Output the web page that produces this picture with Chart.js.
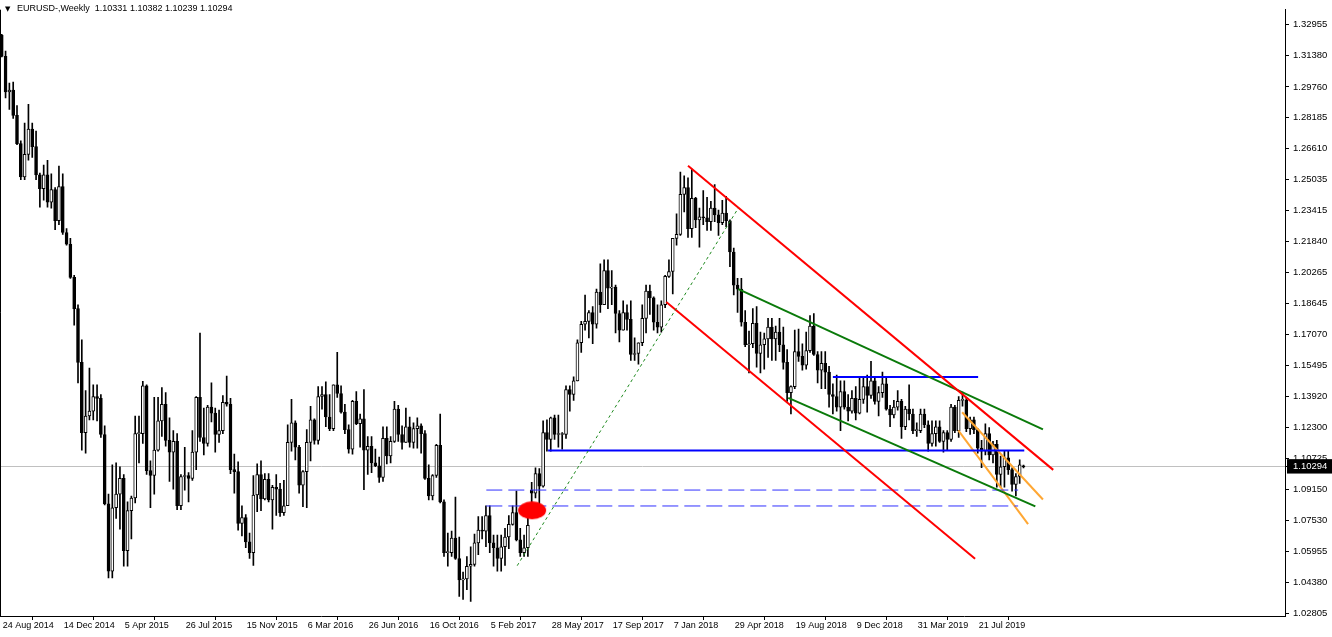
<!DOCTYPE html>
<html>
<head>
<meta charset="utf-8">
<title>EURUSD Weekly</title>
<script src="https://cdn.jsdelivr.net/npm/chart.js@4.4.1/dist/chart.umd.min.js"></script>
<style>
  html, body { margin: 0; padding: 0; background: #fff; }
  #chart { display: block; }
</style>
</head>
<body>
<canvas id="chart" width="1332" height="637"></canvas>
<script>
const symbolTitle = "EURUSD-,Weekly";
const lastBar = [1.10331, 1.10382, 1.10239, 1.10294];
const lastPrice = 1.10294;

// weekly bars, first one = week of 24 Aug 2014
const opens = [
  1.3240,1.3132,1.2950,1.2960,1.2830,1.2685,1.2515,1.2630,1.2760,1.2670,
  1.2525,1.2455,1.2525,1.2385,1.2450,1.2290,1.2465,1.2230,1.2170,1.2000,
  1.1840,1.1565,1.1205,1.1290,1.1315,1.1390,1.1380,1.1195,1.0840,1.0495,
  1.0820,1.0890,1.0970,1.0600,1.0805,1.0870,1.1200,1.1200,1.1445,1.1010,
  1.0985,1.1115,1.1265,1.1350,1.1165,1.1105,1.1160,1.0830,1.0980,1.0985,
  1.0970,1.1105,1.1385,1.1180,1.1150,1.1335,1.1305,1.1195,1.1215,1.1360,
  1.1350,1.1015,1.1005,1.0740,1.0770,1.0645,1.0590,1.0885,1.0990,1.0865,
  1.0965,1.0860,1.0925,1.0915,1.0795,1.0830,1.1155,1.1255,1.1130,1.0935,
  1.1005,1.1155,1.1270,1.1165,1.1390,1.1400,1.1285,1.1225,1.1450,1.1405,
  1.1310,1.1220,1.1120,1.1365,1.1250,1.1275,1.1115,1.1135,1.1050,1.1035,
  1.0975,1.1175,1.1085,1.1160,1.1325,1.1195,1.1155,1.1235,1.1155,1.1225,
  1.1240,1.1200,1.0970,1.0880,1.0985,1.1140,1.0850,1.0590,1.0590,1.0665,
  1.0560,1.0450,1.0455,1.0520,1.0530,1.0640,1.0705,1.0700,1.0780,1.0640,
  1.0615,1.0560,1.0620,1.0670,1.0735,1.0795,1.0655,1.0590,1.0615,1.0910,
  1.0895,1.0995,1.0930,1.1205,1.1170,1.1280,1.1195,1.1195,1.1195,1.1425,
  1.1400,1.1470,1.1665,1.1760,1.1775,1.1820,1.1760,1.1925,1.1860,1.2035,
  1.1945,1.1950,1.1815,1.1730,1.1820,1.1785,1.1605,1.1610,1.1665,1.1790,
  1.1930,1.1895,1.1770,1.1745,1.1860,1.2005,1.2030,1.2200,1.2220,1.2425,
  1.2460,1.2250,1.2405,1.2295,1.2310,1.2305,1.2285,1.2355,1.2320,1.2280,
  1.2330,1.2290,1.2130,1.1960,1.1940,1.1770,1.1655,1.1660,1.1765,1.1610,
  1.1655,1.1685,1.1745,1.1685,1.1720,1.1655,1.1565,1.1410,1.1440,1.1620,
  1.1595,1.1550,1.1625,1.1750,1.1605,1.1525,1.1560,1.1515,1.1400,1.1390,
  1.1335,1.1415,1.1335,1.1315,1.1380,1.1305,1.1375,1.1440,1.1395,1.1470,
  1.1365,1.1410,1.1455,1.1325,1.1295,1.1335,1.1365,1.1235,1.1325,1.1300,
  1.1215,1.1215,1.1300,1.1245,1.1150,1.1200,1.1235,1.1160,1.1205,1.1170,
  1.1335,1.1215,1.1370,1.1370,1.1225,1.1270,1.1220,1.1125,1.1110,1.1200,
  1.1090,1.1145,1.0990,1.1030,1.1075,1.1015,1.0940,1.0980,1.10331
];
const highs = [
  1.3245,1.3160,1.2995,1.3000,1.2880,1.2700,1.2790,1.2887,1.2790,1.2750,
  1.2535,1.2575,1.2600,1.2530,1.2460,1.2570,1.2530,1.2250,1.2200,1.2010,
  1.1860,1.1680,1.1420,1.1535,1.1450,1.1450,1.1400,1.1240,1.0890,1.1040,
  1.1050,1.1030,1.0990,1.0850,1.0880,1.1290,1.1290,1.1467,1.1450,1.1060,
  1.1385,1.1385,1.1435,1.1410,1.1280,1.1215,1.1200,1.0990,1.1130,1.1000,
  1.1215,1.1390,1.1715,1.1330,1.1345,1.1460,1.1330,1.1320,1.1395,1.1495,
  1.1380,1.1095,1.1055,1.0830,1.0785,1.0690,1.0985,1.1045,1.1060,1.0995,
  1.0995,1.0935,1.0990,1.0945,1.0960,1.1245,1.1375,1.1265,1.1140,1.1010,
  1.1220,1.1340,1.1275,1.1440,1.1440,1.1465,1.1400,1.1450,1.1616,1.1445,
  1.1350,1.1245,1.1370,1.1415,1.1300,1.1425,1.1185,1.1185,1.1120,1.1080,
  1.1235,1.1235,1.1185,1.1365,1.1345,1.1240,1.1330,1.1285,1.1255,1.1280,
  1.1250,1.1215,1.1040,1.0990,1.1145,1.1300,1.0860,1.0690,1.0700,1.0875,
  1.0670,1.0490,1.0570,1.0620,1.0685,1.0775,1.0775,1.0830,1.0830,1.0680,
  1.0680,1.0680,1.0715,1.0780,1.0830,1.0905,1.0715,1.0680,1.0780,1.0950,
  1.1025,1.1020,1.1265,1.1270,1.1285,1.1295,1.1295,1.1205,1.1445,1.1445,
  1.1490,1.1680,1.1775,1.1910,1.1830,1.1850,1.1940,1.2070,1.2090,1.2090,
  1.2035,1.1960,1.1830,1.1880,1.1860,1.1880,1.1690,1.1665,1.1860,1.1960,
  1.1960,1.1900,1.1860,1.1880,1.2010,1.2090,1.2200,1.2325,1.2540,1.2520,
  1.2510,1.2555,1.2410,1.2355,1.2445,1.2410,1.2390,1.2475,1.2345,1.2395,
  1.2415,1.2295,1.2150,1.1995,1.1995,1.1830,1.1725,1.1840,1.1850,1.1720,
  1.1715,1.1790,1.1790,1.1750,1.1790,1.1745,1.1630,1.1445,1.1730,1.1735,
  1.1660,1.1720,1.1805,1.1815,1.1620,1.1620,1.1620,1.1545,1.1455,1.1500,
  1.1470,1.1470,1.1400,1.1420,1.1440,1.1485,1.1485,1.1500,1.1570,1.1490,
  1.1440,1.1515,1.1490,1.1345,1.1370,1.1420,1.1375,1.1340,1.1450,1.1325,
  1.1255,1.1325,1.1325,1.1265,1.1265,1.1265,1.1265,1.1215,1.1215,1.1350,
  1.1345,1.1390,1.1412,1.1385,1.1285,1.1285,1.1225,1.1165,1.1250,1.1230,
  1.1160,1.1165,1.1085,1.1110,1.1110,1.1025,1.0995,1.1065,1.10382
];
const lows = [
  1.3130,1.2920,1.2860,1.2815,1.2680,1.2500,1.2500,1.2600,1.2615,1.2500,
  1.2360,1.2395,1.2360,1.2355,1.2245,1.2270,1.2220,1.2165,1.1995,1.1755,
  1.1460,1.1115,1.1100,1.1270,1.1270,1.1265,1.1180,1.0835,1.0460,1.0460,
  1.0765,1.0710,1.0520,1.0520,1.0660,1.0845,1.1050,1.1150,1.0990,1.0820,
  1.0890,1.1110,1.1185,1.1135,1.0955,1.0915,1.0810,1.0810,1.0910,1.0850,
  1.0960,1.1015,1.1160,1.1090,1.1135,1.1260,1.1105,1.1155,1.1200,1.1340,
  1.0995,1.0895,1.0705,1.0675,1.0615,1.0560,1.0525,1.0800,1.0805,1.0860,
  1.0850,1.0710,1.0780,1.0775,1.0780,1.0830,1.1110,1.1065,1.0895,1.0825,
  1.0820,1.1060,1.1145,1.1145,1.1325,1.1235,1.1215,1.1215,1.1385,1.1305,
  1.1200,1.1100,1.1095,1.1245,1.1130,1.0912,1.0990,1.1000,1.1030,1.0950,
  1.0955,1.1045,1.1050,1.1155,1.1160,1.1120,1.1155,1.1130,1.1125,1.1125,
  1.1100,1.0965,1.0860,1.0860,1.0975,1.0845,1.0570,1.0520,1.0570,1.0555,
  1.0365,1.0350,1.0400,1.0340,1.0520,1.0580,1.0660,1.0620,1.0590,1.0520,
  1.0495,1.0495,1.0525,1.0610,1.0730,1.0650,1.0570,1.0570,1.0570,1.0820,
  1.0870,1.0840,1.0925,1.1110,1.1110,1.1170,1.1130,1.1120,1.1175,1.1315,
  1.1370,1.1470,1.1615,1.1730,1.1690,1.1660,1.1740,1.1820,1.1860,1.1840,
  1.1860,1.1715,1.1670,1.1730,1.1730,1.1575,1.1575,1.1555,1.1650,1.1715,
  1.1810,1.1730,1.1715,1.1720,1.1845,1.2000,1.1915,1.2165,1.2215,1.2335,
  1.2205,1.2205,1.2255,1.2155,1.2270,1.2240,1.2240,1.2285,1.2215,1.2270,
  1.2260,1.2055,1.1910,1.1820,1.1750,1.1645,1.1510,1.1640,1.1540,1.1510,
  1.1530,1.1590,1.1575,1.1575,1.1620,1.1530,1.1365,1.1300,1.1430,1.1570,
  1.1525,1.1530,1.1615,1.1600,1.1460,1.1430,1.1430,1.1335,1.1300,1.1315,
  1.1215,1.1325,1.1265,1.1305,1.1270,1.1300,1.1355,1.1310,1.1380,1.1350,
  1.1290,1.1385,1.1320,1.1235,1.1280,1.1320,1.1175,1.1220,1.1270,1.1200,
  1.1185,1.1205,1.1230,1.1110,1.1135,1.1135,1.1155,1.1105,1.1115,1.1160,
  1.1205,1.1180,1.1340,1.1210,1.1195,1.1200,1.1100,1.1025,1.1090,1.1065,
  1.1050,1.0925,1.0925,1.0925,1.0990,1.0905,1.0880,1.0945,1.10239
];
const closes = [
  1.3132,1.2950,1.2960,1.2830,1.2685,1.2515,1.2630,1.2760,1.2670,1.2525,
  1.2455,1.2525,1.2385,1.2450,1.2290,1.2465,1.2230,1.2170,1.2000,1.1840,
  1.1565,1.1205,1.1290,1.1315,1.1390,1.1380,1.1195,1.0840,1.0495,1.0820,
  1.0890,1.0970,1.0600,1.0805,1.0870,1.1200,1.1200,1.1445,1.1010,1.0985,
  1.1115,1.1265,1.1350,1.1165,1.1105,1.1160,1.0830,1.0980,1.0985,1.0970,
  1.1105,1.1385,1.1180,1.1150,1.1335,1.1305,1.1195,1.1215,1.1360,1.1350,
  1.1015,1.1005,1.0740,1.0770,1.0645,1.0590,1.0885,1.0990,1.0865,1.0965,
  1.0860,1.0925,1.0915,1.0795,1.0830,1.1155,1.1255,1.1130,1.0935,1.1005,
  1.1155,1.1270,1.1165,1.1390,1.1400,1.1285,1.1225,1.1450,1.1405,1.1310,
  1.1220,1.1120,1.1365,1.1250,1.1275,1.1115,1.1135,1.1050,1.1035,1.0975,
  1.1175,1.1085,1.1160,1.1325,1.1195,1.1155,1.1235,1.1155,1.1225,1.1240,
  1.1200,1.0970,1.0880,1.0985,1.1140,1.0850,1.0590,1.0590,1.0665,1.0560,
  1.0450,1.0455,1.0520,1.0530,1.0640,1.0705,1.0700,1.0780,1.0640,1.0615,
  1.0560,1.0620,1.0670,1.0735,1.0795,1.0655,1.0590,1.0615,1.0730,1.0895,
  1.0995,1.0930,1.1205,1.1170,1.1280,1.1195,1.1195,1.1195,1.1425,1.1400,
  1.1470,1.1665,1.1760,1.1775,1.1820,1.1760,1.1925,1.1860,1.2035,1.1945,
  1.1950,1.1815,1.1730,1.1820,1.1785,1.1605,1.1610,1.1665,1.1790,1.1930,
  1.1895,1.1770,1.1745,1.1860,1.2005,1.2030,1.2200,1.2220,1.2425,1.2460,
  1.2250,1.2405,1.2295,1.2310,1.2305,1.2285,1.2355,1.2320,1.2280,1.2330,
  1.2290,1.2130,1.1960,1.1940,1.1770,1.1655,1.1660,1.1765,1.1610,1.1655,
  1.1685,1.1745,1.1685,1.1720,1.1655,1.1565,1.1410,1.1440,1.1620,1.1595,
  1.1550,1.1625,1.1750,1.1605,1.1525,1.1560,1.1515,1.1400,1.1390,1.1335,
  1.1415,1.1335,1.1315,1.1380,1.1305,1.1375,1.1440,1.1395,1.1470,1.1365,
  1.1410,1.1455,1.1325,1.1295,1.1335,1.1365,1.1235,1.1325,1.1300,1.1215,
  1.1215,1.1300,1.1245,1.1150,1.1200,1.1235,1.1160,1.1205,1.1170,1.1335,
  1.1215,1.1370,1.1370,1.1225,1.1270,1.1220,1.1125,1.1110,1.1200,1.1090,
  1.1145,1.0990,1.1030,1.1075,1.1015,1.0940,1.0980,1.1040,1.10294
];

const priceTicks = [1.32955,1.31380,1.29760,1.28185,1.26610,1.25035,1.23415,1.21840,1.20265,1.18645,
  1.17070,1.15495,1.13920,1.12300,1.10725,1.09150,1.07530,1.05955,1.04380,1.02805];
const dateBars = [0,16,32,48,64,80,96,112,128,144,160,176,192,208,224,240,256];
const dateLabels = ["24 Aug 2014","14 Dec 2014","5 Apr 2015","26 Jul 2015","15 Nov 2015","6 Mar 2016",
  "26 Jun 2016","16 Oct 2016","5 Feb 2017","28 May 2017","17 Sep 2017","7 Jan 2018","29 Apr 2018",
  "19 Aug 2018","9 Dec 2018","31 Mar 2019","21 Jul 2019"];

// drawn objects, endpoints as [bar index, price]
const greenDotted = [[135.2, 1.0523], [193.2, 1.2355]];
const redUpper = [[180.0, 1.2572], [275.8, 1.1014]];
const redLower = [[174.3, 1.1874], [255.3, 1.0559]];
const greenUpper = [[193.2, 1.1940], [273.1, 1.1221]];
const greenLower = [[206.3, 1.1383], [271.1, 1.0827]];
const blueUpper = [[218.0, 1.14895], [256.1, 1.14895]];
const blueLower = [[143.3, 1.1113], [268.2, 1.1113]];
const blueDashA = [[127.1, 1.09105], [266.6, 1.09105]];
const blueDashB = [[127.1, 1.0829], [266.6, 1.0829]];
const orangeUpper = [[251.9, 1.1309], [273.1, 1.0862]];
const orangeLower = [[250.9, 1.1216], [269.2, 1.0736]];
const blobCenter = [139.1, 1.0807];

Chart.defaults.font.family = '"Liberation Sans", Arial, sans-serif';
Chart.defaults.font.size = 9;
Chart.defaults.color = '#000';

// red filled ellipse used as point style
const blob = document.createElement('canvas');
blob.width = 30; blob.height = 20;
const bctx = blob.getContext('2d');
bctx.fillStyle = '#ff0000';
bctx.beginPath();
bctx.ellipse(15, 10, 14, 9, 0, 0, Math.PI * 2);
bctx.fill();

const wicks = opens.map((o, i) => ({ x: i, y: [lows[i], highs[i]] }));
const bodies = opens.map((o, i) => ({ x: i, y: [o, closes[i]] }));
const bodyFill = opens.map((o, i) => closes[i] >= o ? '#ffffff' : '#000000');

function segment(pts, color, width, dash) {
  return {
    type: 'line',
    data: pts.map(p => ({ x: p[0], y: p[1] })),
    borderColor: color,
    borderWidth: width,
    borderDash: dash || [],
    pointRadius: 0,
    fill: false,
    tension: 0,
    order: 1
  };
}

const header = {
  id: 'header',
  afterDraw(chart) {
    const c = chart.ctx;
    const a = chart.chartArea;
    c.save();
    // left frame line
    c.strokeStyle = '#000';
    c.lineWidth = 1;
    c.beginPath();
    c.moveTo(a.left + 0.5, a.top);
    c.lineTo(a.left + 0.5, a.bottom);
    c.stroke();
    c.fillStyle = '#000';
    c.textBaseline = 'middle';
    c.font = '7px "DejaVu Sans"';
    c.fillText('\u25BC', 5, 9);
    c.font = '9px "Liberation Sans"';
    c.fillText(symbolTitle + '  ' + lastBar.map(v => v.toFixed(5)).join(' '), 17, 9);
    c.restore();
  }
};

new Chart(document.getElementById('chart'), {
  type: 'bar',
  data: {
    datasets: [
      {
        data: wicks,
        backgroundColor: '#000',
        borderWidth: 0,
        barThickness: 1,
        grouped: false,
        order: 3
      },
      {
        data: bodies,
        backgroundColor: bodyFill,
        borderColor: '#000',
        borderWidth: 1,
        borderSkipped: false,
        barThickness: 3,
        minBarLength: 1,
        grouped: false,
        order: 2
      },
      segment(greenDotted, '#1f8a1f', 1, [3, 3]),
      segment(redUpper, '#ff0000', 2),
      segment(redLower, '#ff0000', 2),
      segment(greenUpper, '#0a7a0a', 2),
      segment(greenLower, '#0a7a0a', 2),
      segment(blueUpper, '#0000ff', 2),
      segment(blueLower, '#0000ff', 2),
      segment(blueDashA, '#3030ff', 1, [16, 6]),
      segment(blueDashB, '#3030ff', 1, [16, 6]),
      segment(orangeUpper, '#ffa733', 2),
      segment(orangeLower, '#ffa733', 2),
      {
        type: 'line',
        data: [{ x: blobCenter[0], y: blobCenter[1] }],
        showLine: false,
        pointStyle: blob,
        pointRadius: 10,
        order: 0
      }
    ]
  },
  options: {
    responsive: false,
    animation: false,
    layout: { autoPadding: false, padding: { top: 2, left: 0, right: 0, bottom: 0 } },
    plugins: { legend: { display: false }, tooltip: { enabled: false } },
    scales: {
      x: {
        type: 'linear',
        offset: false,
        min: -0.459,
        max: 336.59,
        border: { display: true, color: '#000', width: 1 },
        grid: { drawOnChartArea: false, tickLength: 4, tickColor: '#000' },
        afterBuildTicks: s => { s.ticks = dateBars.map(v => ({ value: v })); },
        afterFit: s => { s.height = 21; },
        ticks: {
          autoSkip: false,
          maxRotation: 0,
          align: 'start',
          labelOffset: 1,
          padding: 0,
          font: { size: 9 },
          callback: v => dateLabels[dateBars.indexOf(v)]
        }
      },
      y: {
        type: 'linear',
        position: 'right',
        min: 1.026532,
        max: 1.337138,
        border: { display: true, color: '#000', width: 1 },
        grid: {
          drawOnChartArea: true,
          tickLength: 4,
          color: ctx => (ctx.tick && ctx.tick.value === lastPrice) ? '#c0c0c0' : 'rgba(0,0,0,0)',
          tickColor: '#000'
        },
        afterBuildTicks: s => { s.ticks = priceTicks.concat([lastPrice]).map(v => ({ value: v })); },
        afterFit: s => { s.width = 47; },
        ticks: {
          autoSkip: false,
          padding: 4,
          font: { size: 9.5 },
          color: ctx => ctx.tick.value === lastPrice ? '#ffffff' : '#000000',
          showLabelBackdrop: ctx => ctx.tick.value === lastPrice,
          backdropColor: '#000',
          backdropPadding: { top: 2, bottom: 1, left: 6, right: 5 },
          callback: v => v.toFixed(5)
        }
      }
    }
  },
  plugins: [header]
});
</script>
</body>
</html>
